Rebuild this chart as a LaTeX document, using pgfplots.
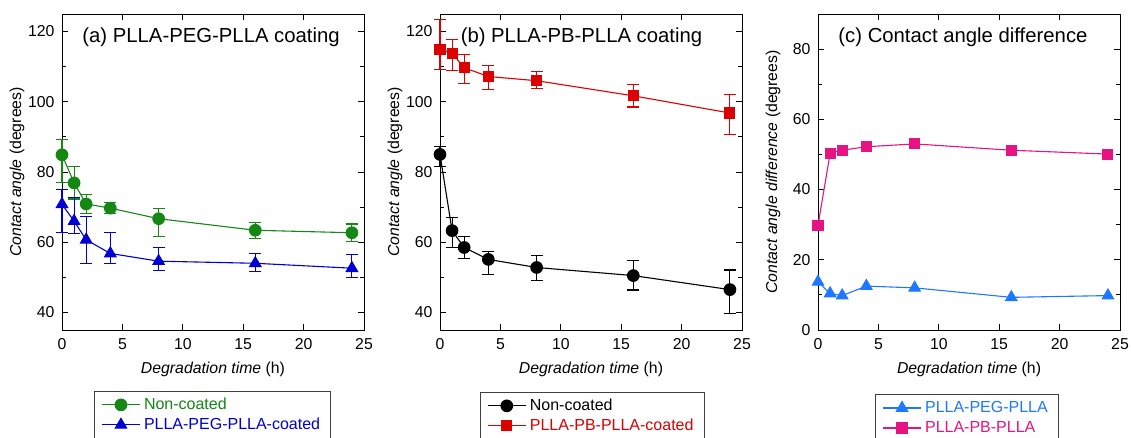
\documentclass[border=0pt]{standalone}
\usepackage{fontspec}
\setmainfont{Liberation Sans}
\usepackage{pgfplots}
\pgfplotsset{compat=1.18}
\definecolor{cgreen}{RGB}{20,135,20}
\definecolor{cblue}{RGB}{0,0,210}
\definecolor{cred}{RGB}{220,0,0}
\definecolor{lblue}{RGB}{30,120,255}
\definecolor{cpink}{RGB}{230,20,130}
\tikzset{ttl/.style={anchor=base west, font=\fontsize{20.3}{23}\selectfont}}
\pgfplotsset{
  myaxis/.style={
    scale only axis, width=302pt, height=316pt, anchor=south west,
    xmin=0, xmax=25, xtick={0,5,...,25},
    tick align=inside, major tick length=6pt, minor tick length=4pt,
    minor y tick num=1,
    axis line style={line width=0.9pt},
    every tick/.style={black, line width=0.8pt},
    /pgf/number format/assume math mode=true,
    tick label style={font=\fontsize{15.8}{18}\selectfont},
    xticklabel style={anchor=base, yshift=-20pt},
    yticklabel style={anchor=east, xshift=-4pt},
    label style={font=\fontsize{15.8}{18}\selectfont},
    xlabel={\textit{Degradation time} (h)},
    xlabel style={at={(axis description cs:0.5,0)}, anchor=base, yshift=-44pt},
    ylabel style={at={(axis description cs:-0.149,0.5)}, anchor=center},
    clip=false,
    legend style={draw=black!75, line width=0.8pt, font=\fontsize{16}{18}\selectfont,
      anchor=north west, legend cell align=left, inner xsep=7pt, inner ysep=4pt,
      row sep=1pt, nodes={inner ysep=2pt, inner xsep=3.5pt, text height=12pt, text depth=3pt}},
    legend image code/.code={\draw[mark repeat=2,mark phase=2] plot coordinates {(0pt,0pt) (19pt,0pt) (38pt,0pt)};},
  },
  ser/.style={line width=1.1pt, mark options={solid},
    error bars/y dir=both, error bars/y explicit,
    error bars/error bar style={line width=1.1pt},
    error bars/error mark options={rotate=90, mark size=6pt, line width=1.1pt}},
  ln/.style={line width=1.1pt},
}
\begin{document}
\begin{tikzpicture}
\path[use as bounding box] (0pt,0pt) rectangle (1131pt,438pt);
% (a)
\begin{axis}[myaxis, at={(62pt,108pt)}, ymin=35, ymax=125, ytick={40,60,...,120},
  ylabel={\textit{Contact angle} (degrees)},
  legend style={at={(axis description cs:0.106,-0.193)}}]
\addplot[color=cgreen, mark=*, mark size=5.8pt, ser] coordinates {
(0,84.9) += (0,4.3) -= (0,7.8)
(1,76.9) += (0,4.6) -= (0,4.6)
(2,70.9) += (0,2.8) -= (0,2.6)
(4,69.7) += (0,1.6) -= (0,1.6)
(8,66.7) += (0,3.0) -= (0,5.1)
(16,63.4) += (0,2.3) -= (0,2.3)
(24,62.7) += (0,2.5) -= (0,2.5)
};
\addlegendentry{\textcolor{cgreen}{Non-coated}}
\addplot[color=cblue, mark=triangle*, mark size=6.5pt, ser] coordinates {
(0,70.8) += (0,4.2) -= (0,8.1)
(1,66.0) += (0,6.8) -= (0,3.6)
(2,60.7) += (0,6.6) -= (0,6.8)
(4,56.8) += (0,5.9) -= (0,2.9)
(8,54.6) += (0,4.0) -= (0,2.6)
(16,54.0) += (0,2.7) -= (0,2.4)
(24,52.6) += (0,4.0) -= (0,2.6)
};
\addlegendentry{\textcolor{cblue}{PLLA-PEG-PLLA-coated}}
\node[ttl] at (rel axis cs:0.056,0.909) {(a) PLLA-PEG-PLLA coating};
\end{axis}
% (b)
\begin{axis}[myaxis, at={(440pt,108pt)}, ymin=35, ymax=125, ytick={40,60,...,120},
  ylabel={\textit{Contact angle} (degrees)},
  legend style={at={(axis description cs:0.132,-0.196)}}]
\addplot[color=black, mark=*, mark size=5.8pt, ser] coordinates {
(0,85.0) += (0,2.3) -= (0,3.4)
(1,63.3) += (0,3.8) -= (0,4.7)
(2,58.5) += (0,3.2) -= (0,3.2)
(4,55.1) += (0,2.2) -= (0,4.3)
(8,52.8) += (0,3.4) -= (0,3.7)
(16,50.5) += (0,4.3) -= (0,4.1)
(24,46.5) += (0,5.6) -= (0,6.9)
};
\addlegendentry{Non-coated}
\addplot[color=cred, mark=square*, mark size=5pt, ser] coordinates {
(0,115.0) += (0,8.4) -= (0,5.8)
(1,113.8) += (0,3.9) -= (0,4.9)
(2,109.7) += (0,3.8) -= (0,4.4)
(4,107.2) += (0,3.1) -= (0,3.6)
(8,106.0) += (0,2.7) -= (0,2.2)
(16,101.7) += (0,3.2) -= (0,3.2)
(24,96.8) += (0,5.4) -= (0,6.1)
};
\addlegendentry{\textcolor{cred}{PLLA-PB-PLLA-coated}}
\node[ttl] at (rel axis cs:0.057,0.909) {(b) PLLA-PB-PLLA coating};
\end{axis}
% (c)
\begin{axis}[myaxis, at={(818pt,108pt)}, ymin=0, ymax=90, ytick={0,20,...,80},
  ylabel={\textit{Contact angle difference} (degrees)},
  legend style={at={(axis description cs:0.189,-0.203)}}]
\addplot[ln, color=lblue, mark=triangle*, mark size=6.5pt] coordinates {
(0,13.7) (1,10.4) (2,9.8) (4,12.5) (8,12.0) (16,9.3) (24,9.8)
};
\addlegendentry{\textcolor{lblue}{PLLA-PEG-PLLA}}
\addplot[ln, color=cpink, mark=square*, mark size=5pt] coordinates {
(0,29.8) (1,50.3) (2,51.2) (4,52.2) (8,53.0) (16,51.2) (24,50.1)
};
\addlegendentry{\textcolor{cpink}{PLLA-PB-PLLA}}
\node[ttl] at (rel axis cs:0.056,0.909) {(c) Contact angle difference};
\end{axis}
\end{tikzpicture}
\end{document}
